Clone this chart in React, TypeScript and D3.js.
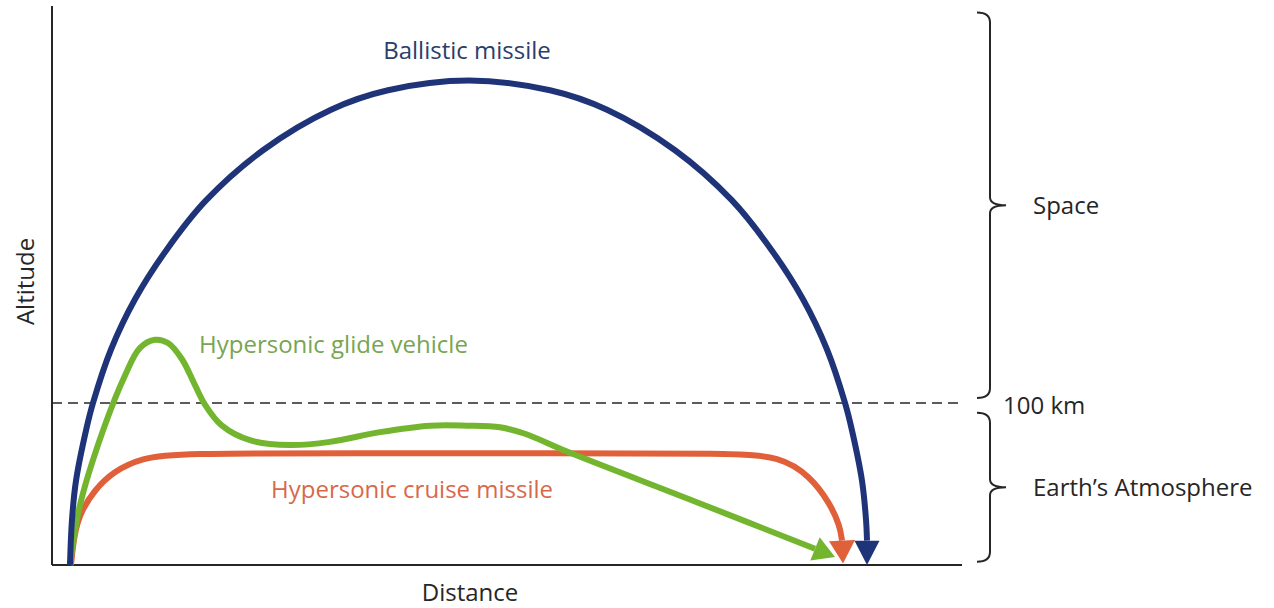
import React from "react";
import * as d3 from "d3";

const W = 1274;
const H = 608;

// distance (arbitrary units along the ground) and altitude (km)
const ballisticPath: [number, number][] = [
  [18, 0], [20, 28], [24, 52], [34, 83], [41, 100], [59, 133], [83, 164], [114, 194],
  [154, 225], [211, 256], [279, 281], [336, 293], [417, 299], [498, 293], [555, 281],
  [623, 256], [680, 225], [720, 194], [751, 164], [775, 133], [793, 100], [800, 83],
  [810, 52], [814, 28], [815, 15],
];
const ballisticImpact: [number, number] = [815, 0];

const glidePath: [number, number][] = [
  [18, 0], [28, 37], [51, 83], [73, 117], [88, 134], [103, 139], [116, 137], [130, 127],
  [143, 111], [153, 99], [170, 86], [198, 77], [238, 74], [278, 76], [328, 82], [378, 86],
  [415, 86], [448, 85], [473, 81], [515, 70], [648, 38], [763, 10],
];
const glideImpact: [number, number] = [783, 5];

const cruisePath: [number, number][] = [
  [19, 0], [22, 18], [28, 32], [42, 46], [62, 58], [90, 66], [125, 69], [300, 69],
  [500, 69], [680, 69], [728, 67], [758, 55], [778, 38], [788, 24], [790, 15],
];
const cruiseImpact: [number, number] = [791, 1];

const karmanLine = 100; // km
const maxAltitude = 345;
const maxDistance = 910;

const regionNames = ["Space", "Earth\u2019s Atmosphere"];
const regionFrom = [103, 2];
const regionTo = [341, 94];

const BLUE = "#1f3478";
const GREEN = "#74b530";
const RED = "#e0603a";
const INK = "#262626";
const FONT = "'Open Sans', 'Noto Sans', sans-serif";

const x = d3.scaleLinear().domain([0, maxDistance]).range([52, 962]);
const y = d3.scaleLinear().domain([0, maxAltitude]).range([565, 6]);

const smoothLine = d3
  .line<[number, number]>()
  .x((d) => x(d[0]))
  .y((d) => y(d[1]))
  .curve(d3.curveCatmullRom.alpha(0.5));

// the cruise track has rounded corners and a long flat stretch
const roundLine = d3
  .line<[number, number]>()
  .x((d) => x(d[0]))
  .y((d) => y(d[1]))
  .curve(d3.curveBasis);

// triangle head: tip at impact, base centred on the last path point
function arrowHead(path: [number, number][], impact: [number, number], half = 12.5) {
  const b = path[path.length - 1];
  const bx = x(b[0]), by = y(b[1]);
  const tx = x(impact[0]), ty = y(impact[1]);
  const len = Math.hypot(tx - bx, ty - by);
  const ux = (tx - bx) / len, uy = (ty - by) / len;
  const pts = [
    [tx, ty],
    [bx - uy * half, by + ux * half],
    [bx + uy * half, by - ux * half],
  ];
  return "M" + pts.map((p) => p.join(",")).join("L") + "Z";
}

function brace(x0: number, yt: number, yb: number) {
  const ym = (yt + yb) / 2;
  return [
    `M${x0 - 13},${yt}`,
    `Q${x0},${yt} ${x0},${yt + 10}`,
    `L${x0},${ym - 8}`,
    `Q${x0},${ym} ${x0 + 16},${ym}`,
    `Q${x0},${ym} ${x0},${ym + 8}`,
    `L${x0},${yb - 10}`,
    `Q${x0},${yb} ${x0 - 13},${yb}`,
  ].join(" ");
}

export default function App() {
  const braceX = 990;
  return (
    <svg
      width={W}
      height={H}
      style={{ position: "absolute", left: 0, top: 0, background: "#fff" }}
      fontFamily={FONT}
    >
      {/* axes */}
      <line x1={x(0)} x2={x(0)} y1={y(maxAltitude)} y2={y(0)} stroke={INK} strokeWidth={2} />
      <line x1={x(0)} x2={x(maxDistance)} y1={y(0)} y2={y(0)} stroke={INK} strokeWidth={2} />

      {/* 100 km line */}
      <line
        x1={x(0)}
        x2={x(maxDistance) + 2}
        y1={y(karmanLine)}
        y2={y(karmanLine)}
        stroke={INK}
        strokeWidth={1.6}
        strokeDasharray="10 6"
      />

      {/* trajectories */}
      <path d={roundLine(cruisePath) || ""} fill="none" stroke={RED} strokeWidth={6} />
      <path d={smoothLine(glidePath) || ""} fill="none" stroke={GREEN} strokeWidth={6} />
      <path d={smoothLine(ballisticPath) || ""} fill="none" stroke={BLUE} strokeWidth={6} />
      <path d={arrowHead(glidePath, glideImpact)} fill={GREEN} />
      <path d={arrowHead(cruisePath, cruiseImpact, 13)} fill={RED} />
      <path d={arrowHead(ballisticPath, ballisticImpact, 12.5)} fill={BLUE} />

      {/* region braces */}
      {regionNames.map((name, i) => {
        const yt = y(regionTo[i]);
        const yb = y(regionFrom[i]);
        return (
          <g key={name}>
            <path d={brace(braceX, yt, yb)} fill="none" stroke={INK} strokeWidth={2} />
            <text x={1033} y={(yt + yb) / 2 + 9} fontSize={24} fill={INK}>
              {name}
            </text>
          </g>
        );
      })}
      <text x={1003} y={y(karmanLine) + 11} fontSize={24} fill={INK}>
        100 km
      </text>

      {/* trajectory labels */}
      <text x={467} y={59} fontSize={24} fill="#2c3d6a" textAnchor="middle">
        Ballistic missile
      </text>
      <text x={199} y={353} fontSize={24} fill="#78a552">
        Hypersonic glide vehicle
      </text>
      <text x={271} y={498} fontSize={24} fill="#d9684b">
        Hypersonic cruise missile
      </text>

      {/* axis titles */}
      <text x={470} y={601} fontSize={24} fill={INK} textAnchor="middle">
        Distance
      </text>
      <text
        transform={`translate(34,${y(175)}) rotate(-90)`}
        fontSize={24}
        fill={INK}
        textAnchor="middle"
      >
        Altitude
      </text>
    </svg>
  );
}
